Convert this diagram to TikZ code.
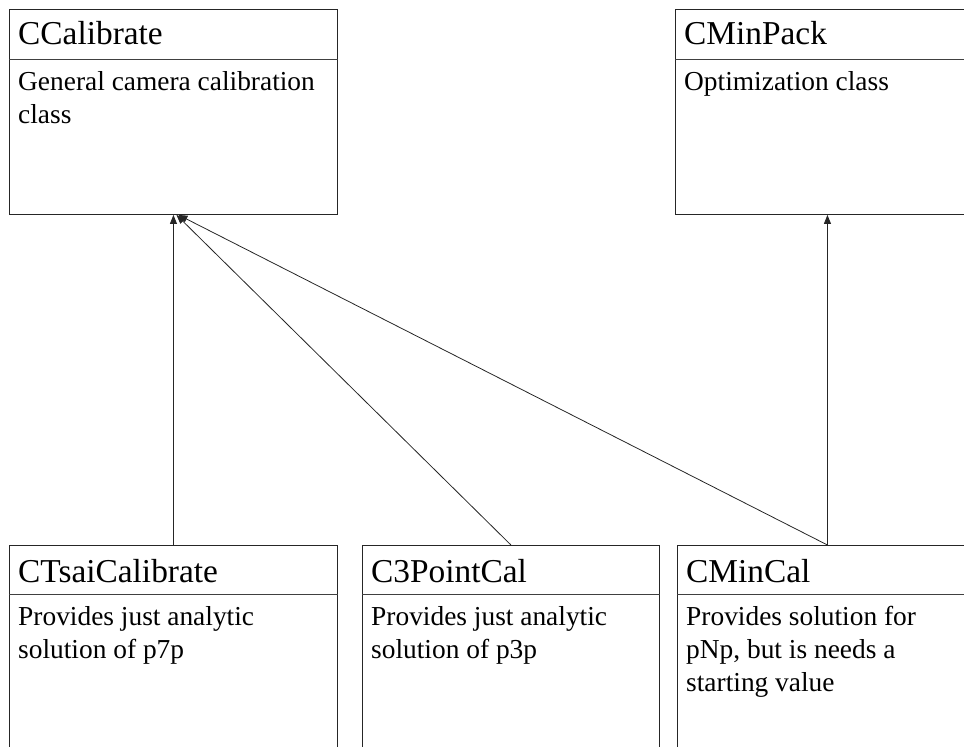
\documentclass[tikz,border=0pt]{standalone}
\usepackage{fontspec}
\setmainfont{Liberation Serif}
\usetikzlibrary{arrows.meta}
\begin{document}
\begin{tikzpicture}[x=1bp,y=-1bp,
  classbox/.style={draw=black!85, line width=0.9bp, anchor=north west,
    minimum height=205bp, inner sep=0pt},
  divider/.style={draw=black!75, line width=0.9bp},
  title/.style={anchor=base west, inner sep=0pt, font=\fontsize{33.5}{40}\selectfont},
  % the base anchor of a multi-line node sits on its last line
  body/.style={anchor=base west, inner sep=0pt, align=left,
    font=\fontsize{27.5}{33}\selectfont},
  inh/.style={draw=black!85, line width=0.8bp, -{Triangle[length=9bp,width=7bp]}}
]
\path[use as bounding box] (0,0) rectangle (964,747);
\clip (0,0) rectangle (964,747);

% upper row
\node[classbox, minimum width=328bp] (calib) at (9,9) {};
\draw[divider] ([yshift=-50bp]calib.north west) -- ([yshift=-50bp]calib.north east);
\node[title] (calibT) at ([xshift=9bp,yshift=-36bp]calib.north west) {CCalibrate};
\node[body] (calibB) at ([xshift=9bp,yshift=-114bp]calib.north west) {General camera calibration\\class};

\node[classbox, minimum width=304bp] (minpack) at (675,9) {};
\draw[divider] ([yshift=-50bp]minpack.north west) -- ([yshift=-50bp]minpack.north east);
\node[title] (minpackT) at ([xshift=9bp,yshift=-36bp]minpack.north west) {CMinPack};
\node[body] (minpackB) at ([xshift=9bp,yshift=-81bp]minpack.north west) {Optimization class};

% lower row
\node[classbox, minimum width=328bp] (tsai) at (9,545) {};
\draw[divider] ([yshift=-49bp]tsai.north west) -- ([yshift=-49bp]tsai.north east);
\node[title] (tsaiT) at ([xshift=9bp,yshift=-37bp]tsai.north west) {CTsaiCalibrate};
\node[body] (tsaiB) at ([xshift=9bp,yshift=-113bp]tsai.north west) {Provides just analytic\\solution of p7p};

\node[classbox, minimum width=297bp] (threep) at (362,545) {};
\draw[divider] ([yshift=-49bp]threep.north west) -- ([yshift=-49bp]threep.north east);
\node[title] (threepT) at ([xshift=9bp,yshift=-37bp]threep.north west) {C3PointCal};
\node[body] (threepB) at ([xshift=9bp,yshift=-113bp]threep.north west) {Provides just analytic\\solution of p3p};

\node[classbox, minimum width=300bp] (mincal) at (677,545) {};
\draw[divider] ([yshift=-49bp]mincal.north west) -- ([yshift=-49bp]mincal.north east);
\node[title] (mincalT) at ([xshift=9bp,yshift=-37bp]mincal.north west) {CMinCal};
\node[body] (mincalB) at ([xshift=9bp,yshift=-146bp]mincal.north west) {Provides solution for\\pNp, but is needs a\\starting value};

% generalisation arrows
\draw[inh] (tsai.north) -- (calib.south);
\draw[inh] (threep.north) -- ([xshift=3bp]calib.south);
\draw[inh] (mincal.north) -- ([xshift=5bp]calib.south);
\draw[inh] (mincal.north) -- (minpack.south);
\end{tikzpicture}
\end{document}
